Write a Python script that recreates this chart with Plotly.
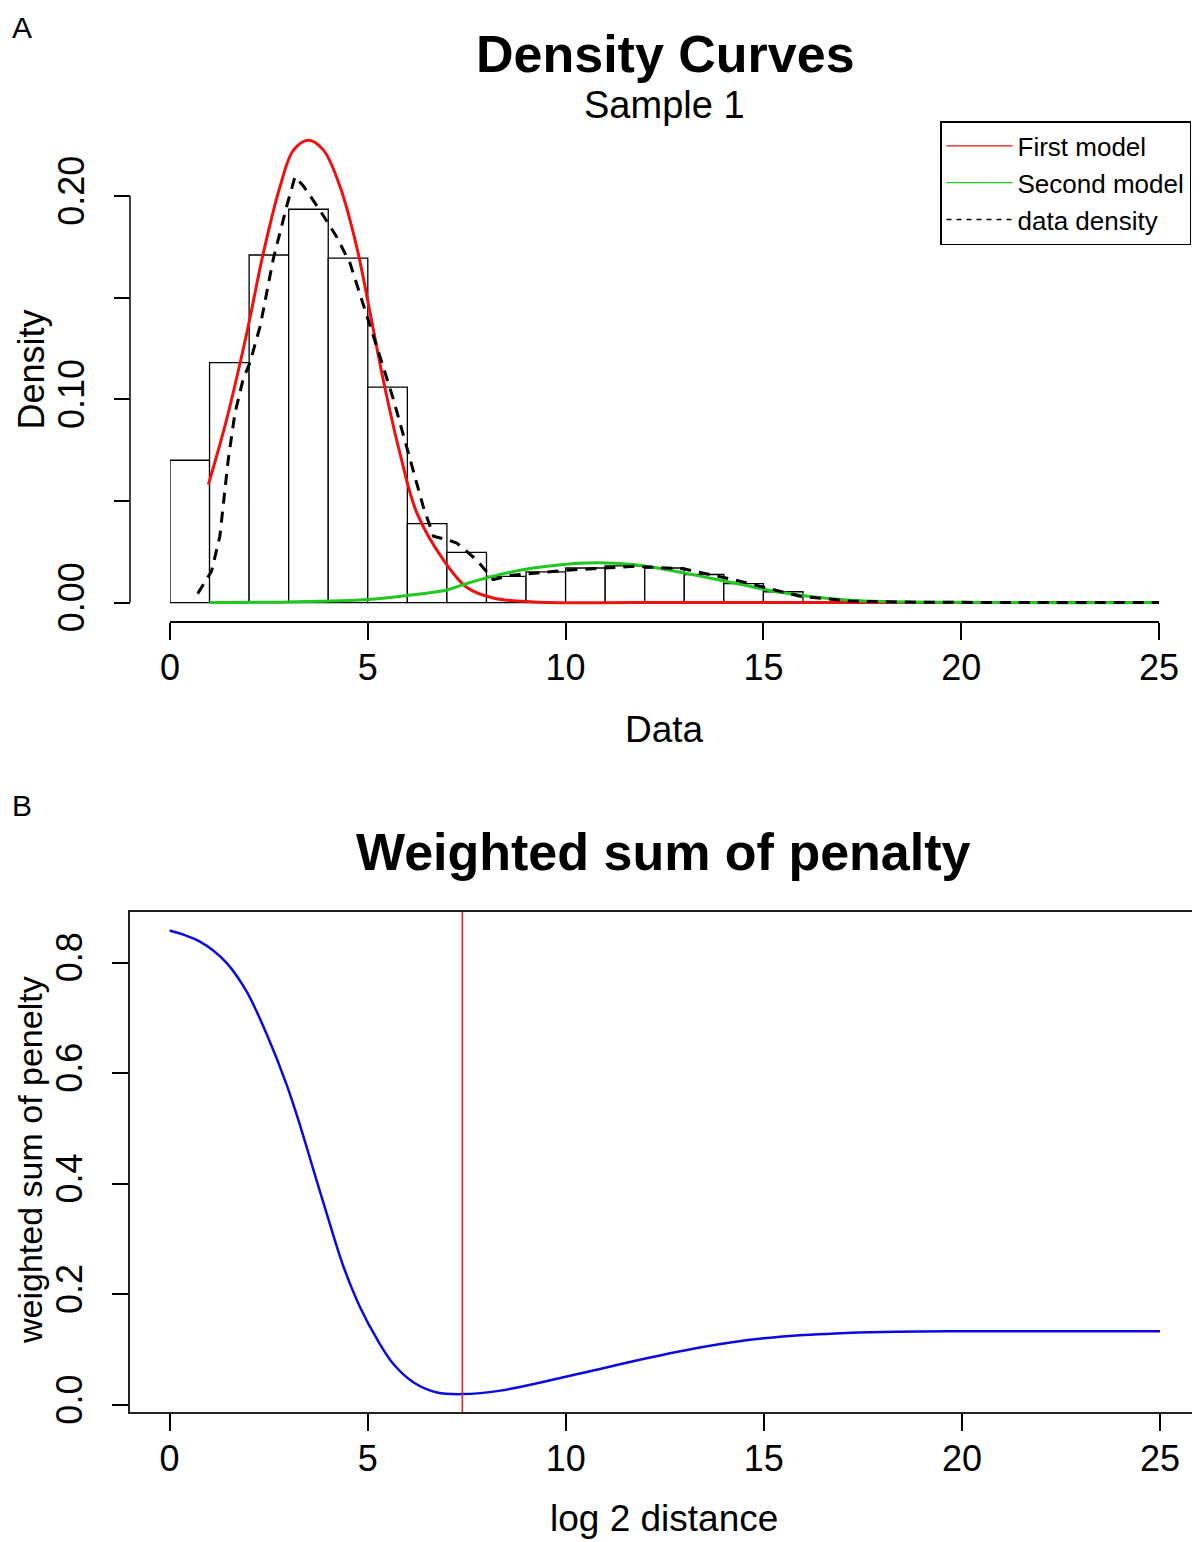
import plotly.graph_objects as go

# the page body adds an 8px margin, so the figure is drawn 8px in from the corner
OFF = 8
W, H = 1200 - OFF, 1542 - OFF
FONT = "Liberation Sans, Arial, Helvetica, sans-serif"

# ---- panel A: histogram + fitted densities ----
bin_left = [0, 1, 2, 3, 4, 5, 6, 7, 8, 9, 10, 11, 12, 13, 14, 15]
bin_height = [0.070, 0.118, 0.171, 0.1935, 0.1695, 0.106, 0.0388, 0.0247,
              0.0129, 0.0151, 0.0170, 0.0180, 0.0170, 0.0138, 0.0093, 0.0053]

first_x = [0.97, 1.43, 1.94, 2.36, 2.78, 3.12, 3.50, 3.88, 4.30, 4.72, 5.06,
           5.39, 5.81, 6.24, 6.91, 7.5, 8.17, 9.2, 12, 25]
first_y = [0.058, 0.090, 0.1325, 0.172, 0.2046, 0.2226, 0.2275, 0.2226, 0.2046,
           0.175, 0.1424, 0.1096, 0.0736, 0.0441, 0.021, 0.0075, 0.0022, 0.0003, 0, 0]

second_x = [1, 3, 5, 6, 7, 7.41, 8.17, 9.18, 10.53, 11.71, 12.98, 14.24, 15.5,
            17.19, 20, 25]
second_y = [0.0, 0.0003, 0.0015, 0.0035, 0.0062, 0.0088, 0.013, 0.017, 0.0195,
            0.0187, 0.0146, 0.0097, 0.0048, 0.0011, 0.0001, 0]

dens_x = [0.70, 1.05, 1.26, 1.47, 1.64, 1.85, 2.02, 2.28, 2.61, 2.95, 3.16, 3.37,
          3.79, 4.21, 4.55, 4.97, 5.39, 5.65, 6.07, 6.40, 6.66, 6.99, 7.25, 7.75,
          8.17, 8.59, 10.03, 11.71, 12.98, 14.24, 15.93, 17.19, 19.0, 25.0]
dens_y = [0.0044, 0.0154, 0.0326, 0.070, 0.093, 0.110, 0.118, 0.136, 0.169, 0.195,
          0.2095, 0.205, 0.193, 0.180, 0.167, 0.142, 0.116, 0.0998, 0.070, 0.0473,
          0.0326, 0.031, 0.0293, 0.021, 0.0113, 0.0133, 0.0159, 0.0178, 0.0166,
          0.0113, 0.0031, 0.0007, 0.0001, 0.0]

# ---- panel B: weighted sum of penalty ----
pen_x = [0, 0.35, 0.775, 1.1, 1.45, 1.95, 2.46, 2.96, 3.30, 3.64, 3.97, 4.39,
         4.82, 5.24, 5.66, 6.16, 6.75, 7.40, 8.35, 10.0, 11.0, 11.73, 12.63,
         13.42, 14.2, 15.0, 16.0, 16.8, 18.0, 19.6, 25]
pen_y = [0.858, 0.8505, 0.8376, 0.822, 0.7987, 0.747, 0.669, 0.578, 0.504, 0.423,
         0.345, 0.250, 0.175, 0.1185, 0.0732, 0.0408, 0.0227, 0.0197, 0.026,
         0.051, 0.0675, 0.0795, 0.0935, 0.1045, 0.1135, 0.1205, 0.1265, 0.1295,
         0.132, 0.1333, 0.1333]
cutoff = 7.39

RED, GREEN, BLUE = "#f01010", "#1ec81e", "#0a0ae0"


def px(x):
    return (x - OFF) / W


def py(y):
    return 1 - (y - OFF) / H


fig = go.Figure()
fig.add_trace(go.Bar(x=bin_left, y=bin_height, width=1, offset=0,
                     marker=dict(color="white", line=dict(color="black", width=1.3)),
                     showlegend=False, xaxis="x", yaxis="y"))
fig.add_trace(go.Scatter(x=first_x, y=first_y, mode="lines", line_shape="spline",
                         line=dict(color=RED, width=3), showlegend=False))
fig.add_trace(go.Scatter(x=second_x, y=second_y, mode="lines", line_shape="spline",
                         line=dict(color=GREEN, width=3), showlegend=False))
fig.add_trace(go.Scatter(x=dens_x, y=dens_y, mode="lines",
                         line=dict(color="black", width=3, dash="11px,8px"),
                         showlegend=False))
# thin legend entries, like base R's legend()
for nm, col, dsh in [("First model", RED, "solid"), ("Second model", GREEN, "solid"),
                     ("data density", "black", "5px,5px")]:
    fig.add_trace(go.Scatter(x=[None], y=[None], mode="lines", name=nm,
                             line=dict(color=col, width=1.3, dash=dsh)))

fig.add_trace(go.Scatter(x=pen_x, y=pen_y, mode="lines",
                         line=dict(color=BLUE, width=2.5, shape="spline"),
                         showlegend=False, xaxis="x2", yaxis="y2"))
fig.add_vline(x=cutoff, line=dict(color="#d42a2a", width=1.6), xref="x2", yref="y2")

tick = dict(ticks="outside", tickwidth=1.5, tickcolor="black", showgrid=False,
            zeroline=False, automargin=False,
            tickfont=dict(size=36, color="black", family=FONT))

# panel A: R-style detached axes
fig.update_layout(
    xaxis=dict(domain=[px(170), px(1159)], range=[0, 25], anchor="free",
               position=py(622), showline=True, linewidth=1.5, linecolor="black",
               ticklen=17, ticklabelstandoff=-3,
               tickvals=[0, 5, 10, 15, 20, 25], **tick),
    yaxis=dict(domain=[py(612.7), py(124.9)], range=[-0.005, 0.235], anchor="free",
               position=px(130), showline=False, ticklen=16, tickangle=-90,
               ticklabelstandoff=16, tickvals=[0, 0.05, 0.10, 0.15, 0.20],
               ticktext=["0.00", "", "0.10", "", "0.20"], **tick),
    xaxis2=dict(domain=[px(130), px(1199.6)], range=[-1, 26], anchor="y2",
                showline=True, mirror=True, linewidth=2, linecolor="#222",
                ticklen=17, ticklabelstandoff=-4,
                tickvals=[0, 5, 10, 15, 20, 25], **tick),
    yaxis2=dict(domain=[py(1412.3), py(912)], range=[-0.0132, 0.8915], anchor="x2",
                showline=True, mirror=True, linewidth=2, linecolor="#222",
                ticklen=16, tickangle=-90, ticklabelstandoff=16,
                tickvals=[0, 0.2, 0.4, 0.6, 0.8],
                ticktext=["0.0", "0.2", "0.4", "0.6", "0.8"], **tick),
)
fig.add_shape(type="line", xref="paper", yref="y", x0=px(130), x1=px(130),
              y0=0, y1=0.20, line=dict(color="black", width=1.5))

# (text, x, y, size, bold, angle, xanchor, yanchor)
texts = [
    ("A", 22, 9, 30, False, 0, "center", "top"),
    ("Density Curves", 665, 54, 52, True, 0, "center", "middle"),
    ("Sample 1", 664, 105, 38, False, 0, "center", "middle"),
    ("Density", 9, 370, 36, False, -90, "left", "middle"),
    ("Data", 664, 729, 37, False, 0, "center", "middle"),
    ("B", 22, 805, 30, False, 0, "center", "middle"),
    ("Weighted sum of penalty", 663, 852, 52, True, 0, "center", "middle"),
    ("weighted sum of penelty", 9, 1160, 34, False, -90, "left", "middle"),
    ("log 2 distance", 664, 1518, 37, False, 0, "center", "middle"),
]
for t, x, y, s, bold, ang, xa, ya in texts:
    fig.add_annotation(text=f"<b>{t}</b>" if bold else t, xref="paper", yref="paper",
                       x=px(x), y=py(y), xanchor=xa, yanchor=ya,
                       showarrow=False, textangle=ang,
                       font=dict(size=s, color="black", family=FONT))

fig.update_layout(
    width=W, height=H, margin=dict(l=0, r=0, t=0, b=0, autoexpand=False),
    paper_bgcolor="white", plot_bgcolor="white",
    font=dict(family=FONT, color="black"),
    legend=dict(x=px(940), y=py(121), xanchor="left", yanchor="top",
                bgcolor="white", bordercolor="black", borderwidth=1.5,
                font=dict(size=26, color="black", family=FONT), itemwidth=66,
                tracegroupgap=0),
)

fig.write_html("out.html")
